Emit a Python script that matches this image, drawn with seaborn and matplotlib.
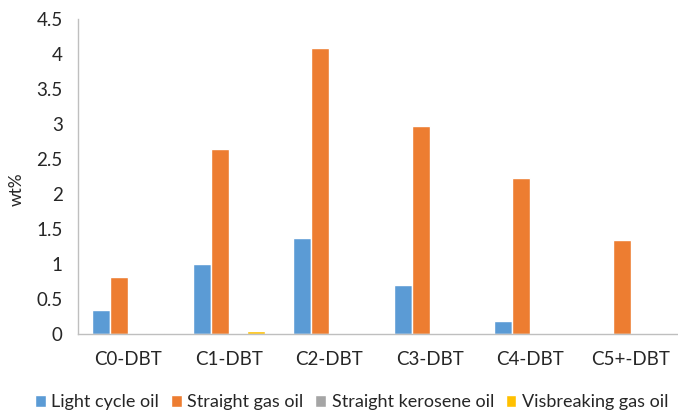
import pandas as pd
import numpy as np
import matplotlib.pyplot as plt
import seaborn as sns

# 数据
CATEGORIES = ['C0-DBT', 'C1-DBT', 'C2-DBT', 'C3-DBT', 'C4-DBT', 'C5+-DBT']
SERIES = ['Light cycle oil', 'Straight gas oil', 'Straight kerosene oil', 'Visbreaking gas oil']
LCO = [0.34, 1.00, 1.37, 0.70, 0.18, 0.02]
SGO = [0.81, 2.65, 4.08, 2.97, 2.23, 1.35]
SKO = [0.0, 0.0, 0.0, 0.0, 0.0, 0.0]
VGO = [0.02, 0.04, 0.0, 0.0, 0.0, 0.0]
COLORS = ['#5b9bd5', '#ed7d31', '#a5a5a5', '#ffc000']

df = pd.DataFrame({'cat': CATEGORIES * 4,
                   'series': np.repeat(SERIES, len(CATEGORIES)),
                   'val': LCO + SGO + SKO + VGO})

sns.set_style('white')
plt.rcParams['font.family'] = ['Lato', 'DejaVu Sans']

fig = plt.figure(figsize=(6.78, 4.12), dpi=100)
ax = fig.add_axes([78 / 678, 78 / 412, 603 / 678, 315 / 412])
sns.barplot(data=df, x='cat', y='val', hue='series', hue_order=SERIES,
            palette=COLORS, width=0.72, saturation=1, ax=ax, legend=True)

ax.set_ylim(0, 4.5)
ax.set_yticks(np.arange(0, 4.51, 0.5))
ax.set_yticklabels(['0', '0.5', '1', '1.5', '2', '2.5', '3', '3.5', '4', '4.5'])
ax.set_xlim(-0.5, 5.5)
ax.set_xlabel('')
ax.set_ylabel('wt%', fontsize=12.5)
ax.yaxis.set_label_coords(-0.088, 0.46)

for s in ['top', 'right']:
    ax.spines[s].set_visible(False)
for s in ['left', 'bottom']:
    ax.spines[s].set_color('#bfbfbf')
    ax.spines[s].set_linewidth(1)

# x 轴刻度位于类别之间
ax.set_xticks(np.arange(len(CATEGORIES)))
ax.set_xticklabels(CATEGORIES, fontsize=13.5)
ax.tick_params(axis='x', length=0, pad=12)
ax.set_xticks(np.arange(-0.5, 6.0, 1), minor=True)
ax.tick_params(axis='x', which='minor', length=6, color='#bfbfbf', direction='out')
ax.tick_params(axis='y', length=5, color='#bfbfbf', direction='out', labelsize=13.5, pad=6)

ax.legend(loc='upper center', bbox_to_anchor=(0.454, -0.168), ncol=4, frameon=False,
          fontsize=13, handlelength=0.6, handleheight=0.6, handletextpad=0.3,
          columnspacing=0.65, borderaxespad=0)

fig.savefig('out.png', dpi=100)
